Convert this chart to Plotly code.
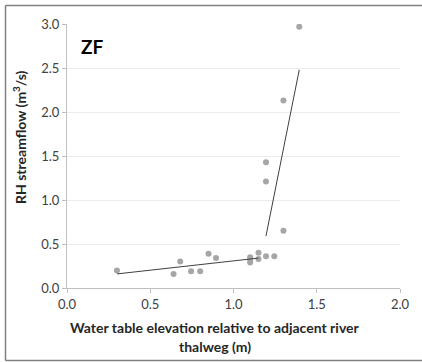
import plotly.graph_objects as go

# Data
x_obs = [0.30, 0.64, 0.68, 0.745, 0.80, 0.85, 0.895, 1.10, 1.10, 1.10, 1.15, 1.15, 1.195, 1.245, 1.30, 1.195, 1.195, 1.30, 1.395]
y_obs = [0.20, 0.16, 0.30, 0.19, 0.19, 0.39, 0.34, 0.35, 0.29, 0.32, 0.40, 0.33, 0.36, 0.36, 0.65, 1.21, 1.43, 2.13, 2.97]
trend1_x = [0.30, 1.15]
trend1_y = [0.16, 0.34]
trend2_x = [1.195, 1.395]
trend2_y = [0.59, 2.48]
x_ticks = [0.0, 0.5, 1.0, 1.5, 2.0]
y_ticks = [0.0, 0.5, 1.0, 1.5, 2.0, 2.5, 3.0]

W, H = 422, 362
L, R, T, B = 67, 22, 24, 74
FONT = "Lato"

fig = go.Figure()
fig.add_trace(go.Scatter(x=x_obs, y=y_obs, mode="markers",
                         marker=dict(color="#a6a6a6", size=6), showlegend=False))
for tx, ty in [(trend1_x, trend1_y), (trend2_x, trend2_y)]:
    fig.add_trace(go.Scatter(x=tx, y=ty, mode="lines",
                             line=dict(color="#404040", width=1), showlegend=False))

pw = W - L - R
ph = H - T - B
def px(xp):
    return (xp - L) / pw
def py(yp):
    return (H - B - yp) / ph

border = dict(color="#808080", width=1.5)
fig.update_layout(
    width=W, height=H,
    margin=dict(l=L, r=R, t=T, b=B),
    paper_bgcolor="white", plot_bgcolor="white",
    font=dict(family=FONT, color="#404040", size=12),
    xaxis=dict(range=[0, 2.0], tickvals=x_ticks, ticktext=[f"{v:.1f}" for v in x_ticks],
               showgrid=False, zeroline=False, showline=True, linecolor="#bfbfbf",
               linewidth=1, ticks="outside", ticklen=4, tickcolor="#bfbfbf",
               tickfont=dict(size=13, color="#404040")),
    yaxis=dict(range=[0, 3.0], tickvals=y_ticks, ticktext=[f"{v:.1f}" for v in y_ticks],
               showgrid=True, gridcolor="#ececec", zeroline=False, showline=True,
               linecolor="#bfbfbf", linewidth=1, ticks="outside", ticklen=4,
               tickcolor="#bfbfbf", tickfont=dict(size=13, color="#404040")),
    shapes=[
        dict(type="line", xref="paper", yref="paper", x0=px(5.5), x1=px(5.5),
             y0=py(360.5), y1=py(5.5), line=border),
        dict(type="line", xref="paper", yref="paper", x0=px(5.5), x1=px(422),
             y0=py(5.5), y1=py(5.5), line=border),
        dict(type="line", xref="paper", yref="paper", x0=px(5.5), x1=px(422),
             y0=py(360.5), y1=py(360.5), line=border),
    ],
    annotations=[
        dict(text="<b>ZF</b>", xref="paper", yref="paper", x=px(79), y=py(46),
             xanchor="left", yanchor="middle", showarrow=False,
             font=dict(size=19, color="black", family=FONT)),
        dict(text="<b>RH streamflow (m<sup>3</sup>/s)</b>", xref="paper", yref="paper",
             x=px(19), y=py(137), textangle=-90, xanchor="center", yanchor="middle",
             showarrow=False, font=dict(size=14, color="#262626", family=FONT)),
        dict(text="<b>Water table elevation relative to adjacent river</b>",
             xref="paper", yref="paper", x=px(215), y=py(327),
             xanchor="center", yanchor="middle", showarrow=False,
             font=dict(size=14, color="#262626", family=FONT)),
        dict(text="<b>thalweg (m)</b>", xref="paper", yref="paper", x=px(215), y=py(346),
             xanchor="center", yanchor="middle", showarrow=False,
             font=dict(size=14, color="#262626", family=FONT)),
    ],
)

fig.write_html("out.html")
